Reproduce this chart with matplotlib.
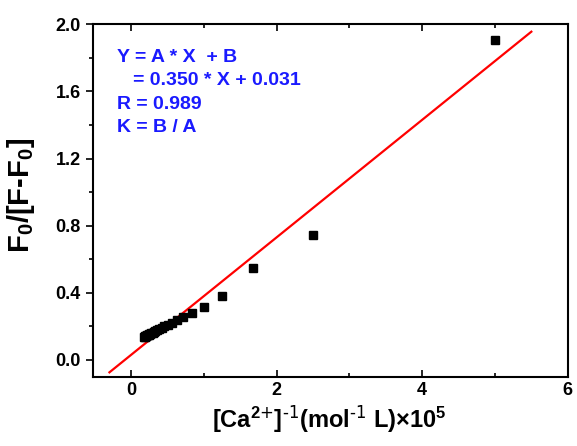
import matplotlib
matplotlib.use("Agg")
import matplotlib.pyplot as plt
import numpy as np

plt.rcParams['font.family'] = ['Liberation Sans', 'DejaVu Sans']
plt.rcParams['mathtext.default'] = 'regular'

# データ (1/[Ca2+] ×10^5, F0/(F-F0))
x = [5.0, 2.5, 1.667, 1.25, 1.0, 0.833, 0.714, 0.625, 0.556, 0.5,
     0.455, 0.417, 0.385, 0.357, 0.333, 0.3125, 0.294, 0.278, 0.263, 0.25,
     0.238, 0.227, 0.217, 0.208, 0.2, 0.192, 0.185, 0.179]
y = [1.906, 0.745, 0.548, 0.383, 0.318, 0.278, 0.258, 0.236, 0.222, 0.210,
     0.200, 0.191, 0.183, 0.177, 0.172, 0.167, 0.163, 0.160, 0.156, 0.153,
     0.151, 0.148, 0.146, 0.144, 0.142, 0.140, 0.138, 0.137]

# フィット直線
slope = 0.350
intercept = 0.031
fit_x = np.array([-0.3, 5.5])
fit_y = slope * fit_x + intercept

fig = plt.figure(figsize=(5.77, 4.46), dpi=100)
ax = fig.add_axes([0.1607, 0.1554, 0.8232, 0.7901])

ax.plot(x, y, 's', color='black', markersize=5.5, zorder=3)
ax.plot(fit_x, fit_y, color='red', linewidth=1.6, zorder=2)

ax.set_xlim(-0.53, 6)
ax.set_ylim(-0.1, 2.0)
ax.set_xticks([0, 2, 4, 6])
ax.set_xticks([1, 3, 5], minor=True)
ax.set_yticks([0.0, 0.4, 0.8, 1.2, 1.6, 2.0])
ax.set_yticklabels(['0.0', '0.4', '0.8', '1.2', '1.6', '2.0'])
ax.set_yticks([0.2, 0.6, 1.0, 1.4, 1.8], minor=True)

for s in ax.spines.values():
    s.set_linewidth(1.5)
ax.tick_params(axis='x', which='both', direction='in', top=True, width=1.2)
ax.tick_params(axis='x', which='major', length=5)
ax.tick_params(axis='x', which='minor', length=3)
ax.tick_params(axis='y', which='both', direction='out', right=False, width=1.2)
ax.tick_params(axis='y', which='major', length=5)
ax.tick_params(axis='y', which='minor', length=3)
ax.tick_params(labelsize=13)
for lb in ax.get_xticklabels() + ax.get_yticklabels():
    lb.set_fontweight('bold')

ax.set_xlabel(r'[Ca$^{2\text{+}}$]$^{\text{-1}}$(mol$^{\text{-1}}$ L)×10$^5$', fontsize=17, fontweight='bold')
ax.set_ylabel(r'F$_0$/[F-F$_0$]', fontsize=21, fontweight='bold')
ax.xaxis.set_label_coords(0.497, -0.075)
ax.yaxis.set_label_coords(-0.117, 0.515)

# 式のテキスト
txt = ['Y = A * X  + B', '   = 0.350 * X + 0.031', 'R = 0.989', 'K = B / A']
ty = [1.80, 1.665, 1.525, 1.385]
for t, yy in zip(txt, ty):
    ax.text(-0.19, yy, t, color='#1a1aff', fontsize=14, fontweight='bold', va='center')

fig.savefig('out.png', dpi=100)
